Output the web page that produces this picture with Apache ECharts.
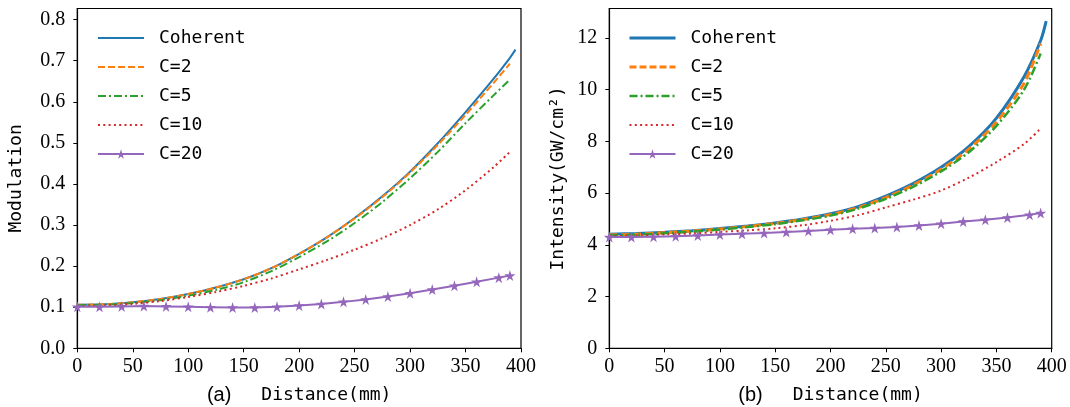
<!DOCTYPE html>
<html>
<head>
<meta charset="utf-8">
<script src="https://cdn.jsdelivr.net/npm/echarts@6/dist/echarts.min.js"></script>
<style>
  html, body { margin: 0; padding: 0; background: #fff; }
  #chart { width: 1070px; height: 407px; }
</style>
</head>
<body>
<div id="chart"></div>
<script>
// distances (mm)
var xCurve = [0, 25, 50, 75, 100, 125, 150, 175, 200, 225, 250, 275, 300, 325, 350, 375, 390];
var xCoh = [0, 25, 50, 75, 100, 125, 150, 175, 200, 225, 250, 275, 300, 325, 350, 375, 390, 395];
var xStar = [0, 20, 40, 60, 80, 100, 120, 140, 160, 180, 200, 220, 240, 260, 280, 300, 320, 340, 360, 380, 390];

// (a) modulation
var cohA = [0.106, 0.107, 0.112, 0.120, 0.132, 0.148, 0.168, 0.195, 0.230, 0.270, 0.317, 0.370, 0.430, 0.499, 0.575, 0.655, 0.707, 0.727];
var c2A  = [0.106, 0.107, 0.112, 0.120, 0.132, 0.148, 0.168, 0.195, 0.230, 0.270, 0.316, 0.368, 0.428, 0.495, 0.568, 0.645, 0.693];
var c5A  = [0.105, 0.106, 0.110, 0.117, 0.128, 0.142, 0.161, 0.188, 0.222, 0.260, 0.305, 0.356, 0.414, 0.478, 0.548, 0.615, 0.654];
var c10A = [0.103, 0.104, 0.108, 0.115, 0.125, 0.137, 0.152, 0.170, 0.192, 0.215, 0.240, 0.268, 0.300, 0.338, 0.385, 0.440, 0.478];
var c20A = [0.101, 0.101, 0.102, 0.103, 0.102, 0.101, 0.100, 0.099, 0.099, 0.101, 0.104, 0.108, 0.113, 0.119, 0.126, 0.134, 0.143, 0.152, 0.162, 0.172, 0.177];

// (b) intensity
var cohB = [4.41, 4.44, 4.49, 4.55, 4.63, 4.73, 4.85, 5.00, 5.20, 5.48, 5.88, 6.38, 7.00, 7.80, 8.90, 10.50, 11.90, 12.65];
var c2B  = [4.38, 4.41, 4.47, 4.53, 4.61, 4.71, 4.83, 4.98, 5.17, 5.44, 5.83, 6.32, 6.92, 7.70, 8.75, 10.25, 11.79];
var c5B  = [4.36, 4.39, 4.45, 4.51, 4.59, 4.69, 4.80, 4.95, 5.13, 5.40, 5.78, 6.25, 6.84, 7.58, 8.60, 10.00, 11.40];
var c10B = [4.34, 4.36, 4.40, 4.44, 4.50, 4.56, 4.64, 4.76, 4.93, 5.15, 5.45, 5.75, 6.10, 6.60, 7.20, 7.90, 8.50];
var c20B = [4.30, 4.30, 4.31, 4.33, 4.36, 4.40, 4.43, 4.46, 4.50, 4.54, 4.58, 4.62, 4.65, 4.69, 4.75, 4.82, 4.90, 4.97, 5.06, 5.16, 5.23];

var names = ['Coherent', 'C=2', 'C=5', 'C=10', 'C=20'];
var xTicks = [0, 50, 100, 150, 200, 250, 300, 350, 400];
var yTicksA = [0, 0.1, 0.2, 0.3, 0.4, 0.5, 0.6, 0.7, 0.8];
var yTicksB = [0, 2, 4, 6, 8, 10, 12];

var colors = ['#1f77b4', '#ff7f0e', '#2ca02c', '#d62728', '#9467bd'];
var star = 'path://M50,0 L61,35 L98,35 L68,57 L79,91 L50,70 L21,91 L32,57 L2,35 L39,35 Z';
var monoFont = 'DejaVu Sans Mono';
var serif = '"Liberation Serif", "Times New Roman", Times, serif';

function pairs(xs, ys) {
  return ys.map(function (y, i) { return [xs[i], y]; });
}

function curve(name, xs, ys, idx, color, type, width) {
  return {
    type: 'line', name: name, xAxisIndex: idx, yAxisIndex: idx,
    data: pairs(xs, ys), symbol: 'none', smooth: 0.3,
    lineStyle: { color: color, type: type, width: width },
    itemStyle: { color: color }
  };
}

function starLine(name, xs, ys, idx) {
  return {
    type: 'line', name: name, xAxisIndex: idx, yAxisIndex: idx,
    data: pairs(xs, ys), symbol: star, symbolSize: 11,
    lineStyle: { color: colors[4], width: 2 },
    itemStyle: { color: colors[4] }
  };
}

function xAxisOf(idx, tag) {
  return {
    type: 'value', gridIndex: idx, min: 0, max: 400, interval: 50,
    name: '{p|' + tag + '}{d|Distance(mm)}',
    nameLocation: 'middle', nameGap: 37,
    nameTextStyle: {
      rich: {
        p: { fontFamily: 'Liberation Sans', fontSize: 20, color: '#000', padding: [0, 30, 0, 0] },
        d: { fontFamily: monoFont, fontSize: 18, color: '#000' }
      }
    },
    axisLine: { lineStyle: { color: '#000', width: 1.2 } },
    axisTick: { inside: false, length: 4, lineStyle: { color: '#000' }, customValues: xTicks },
    axisLabel: { fontFamily: serif, fontSize: 20, color: '#000', margin: 8, customValues: xTicks },
    splitLine: { show: false }
  };
}

function yAxisOf(idx, max, ticks, name, gap, fmt) {
  return {
    type: 'value', gridIndex: idx, min: 0, max: max,
    name: name, nameLocation: 'middle', nameGap: gap, nameRotate: 90,
    nameTextStyle: { fontFamily: monoFont, fontSize: 18, color: '#000' },
    axisLine: { lineStyle: { color: '#000', width: 1.2 } },
    axisTick: { inside: false, length: 4, lineStyle: { color: '#000' }, customValues: ticks },
    axisLabel: { fontFamily: serif, fontSize: 20, color: '#000', margin: 12, customValues: ticks, formatter: fmt },
    splitLine: { show: false }
  };
}

function legendOf(left, widths) {
  return {
    orient: 'vertical', left: left, top: 29, padding: 0,
    itemWidth: 46, itemHeight: 12, itemGap: 11,
    textStyle: { fontFamily: monoFont, fontSize: 18, color: '#000', padding: [0, 0, 0, 10] },
    data: names.map(function (n, i) {
      var item = { name: n, lineStyle: { width: widths[i] } };
      if (i < 4) item.itemStyle = { opacity: 0 };
      return item;
    })
  };
}

var chart = echarts.init(document.getElementById('chart'));
var option = {
  backgroundColor: '#fff',
  animation: false,
  grid: [
    { left: 77.3, top: 8.5, width: 443.7, height: 339.8, show: true, borderColor: '#000', borderWidth: 1.2, outerBoundsMode: 'none' },
    { left: 609.3, top: 8.5, width: 442.4, height: 339.8, show: true, borderColor: '#000', borderWidth: 1.2, outerBoundsMode: 'none' }
  ],
  legend: [legendOf(97, [2, 2, 2, 2, 2]), legendOf(628, [3, 3, 2.5, 2, 2])],
  xAxis: [xAxisOf(0, '(a)'), xAxisOf(1, '(b)')],
  yAxis: [
    yAxisOf(0, 0.827, yTicksA, 'Modulation', 52, function (v) { return v.toFixed(1); }),
    yAxisOf(1, 13.14, yTicksB, 'Intensity(GW/cm²)', 42, function (v) { return String(v); })
  ],
  series: [
    curve('Coherent', xCoh, cohA, 0, colors[0], 'solid', 2),
    curve('C=2', xCurve, c2A, 0, colors[1], [7, 3], 2),
    curve('C=5', xCurve, c5A, 0, colors[2], [8, 3, 2, 3], 2),
    curve('C=10', xCurve, c10A, 0, colors[3], [2, 3.3], 2),
    starLine('C=20', xStar, c20A, 0),
    curve('Coherent', xCoh, cohB, 1, colors[0], 'solid', 3),
    curve('C=2', xCurve, c2B, 1, colors[1], [8, 4], 3),
    curve('C=5', xCurve, c5B, 1, colors[2], [9, 3, 2, 3], 2.5),
    curve('C=10', xCurve, c10B, 1, colors[3], [2, 3.3], 2),
    starLine('C=20', xStar, c20B, 1)
  ]
};
chart.setOption(option);
</script>
</body>
</html>
